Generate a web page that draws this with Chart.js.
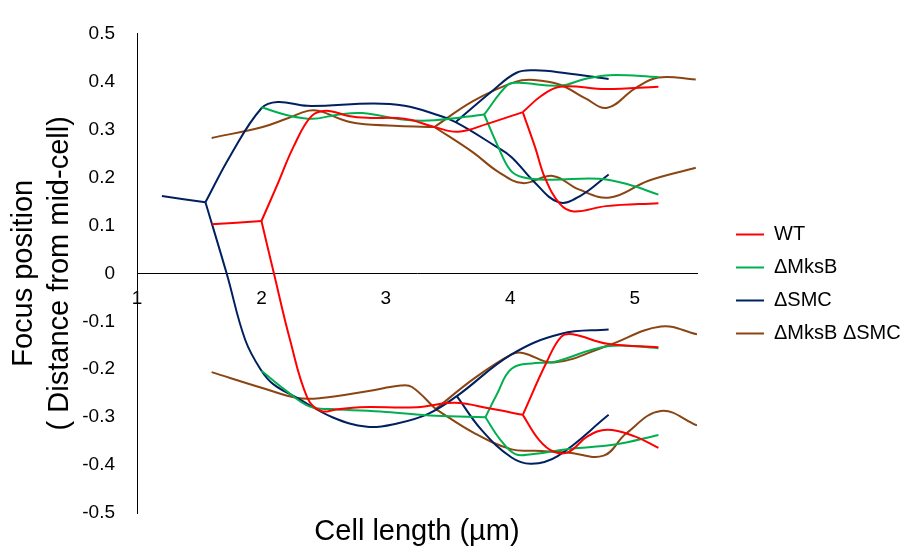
<!DOCTYPE html>
<html>
<head>
<meta charset="utf-8">
<script src="https://cdn.jsdelivr.net/npm/chart.js@4.4.1/dist/chart.umd.min.js"></script>
<style>
html,body{margin:0;padding:0;background:#ffffff;}
#wrap{width:905px;height:552px;}
</style>
</head>
<body>
<div id="wrap"><canvas id="c" width="905" height="552"></canvas></div>
<script>
// ---- data (x = cell length in µm, y = focus position) ----
const seriesNames = ['WT', 'ΔMksB', 'ΔSMC', 'ΔMksB ΔSMC'];
const seriesColors = ['#FF0000', '#00B050', '#002060', '#8B4513'];

const xTickValues = [1, 2, 3, 4, 5];
const xTickLabels = ['1', '2', '3', '4', '5'];
const yTickValues = [-0.5, -0.4, -0.3, -0.2, -0.1, 0, 0.1, 0.2, 0.3, 0.4, 0.5];
const yTickLabels = ['-0.5', '-0.4', '-0.3', '-0.2', '-0.1', '0', '0.1', '0.2', '0.3', '0.4', '0.5'];

// WT
const wtLeadIn = [[1.60,0.102],[2.00,0.109]];
const wtUpper = [[2.00,0.109],[2.12,0.180],[2.26,0.265],[2.40,0.327],[2.52,0.339],[2.70,0.328],[2.85,0.324],[3.15,0.322],[3.39,0.305],[3.58,0.295],[3.82,0.312],[4.10,0.336]];
const wtUpperHigh = [[4.10,0.336],[4.25,0.370],[4.40,0.389],[4.77,0.384],[5.19,0.389]];
const wtUpperLow = [[4.10,0.336],[4.20,0.262],[4.28,0.198],[4.40,0.144],[4.51,0.129],[4.77,0.140],[5.19,0.146]];
const wtLower = [[2.00,0.109],[2.10,0.000],[2.23,-0.139],[2.37,-0.260],[2.48,-0.287],[2.60,-0.284],[2.79,-0.279],[3.25,-0.279],[3.55,-0.270],[3.86,-0.283],[4.10,-0.295]];
const wtLowerHigh = [[4.10,-0.295],[4.29,-0.186],[4.41,-0.132],[4.50,-0.127],[4.78,-0.147],[5.19,-0.154]];
const wtLowerLow = [[4.10,-0.295],[4.23,-0.347],[4.35,-0.372],[4.47,-0.372],[4.62,-0.340],[4.78,-0.326],[5.00,-0.340],[5.19,-0.364]];

// ΔMksB
const mksbUpper = [[2.00,0.346],[2.20,0.330],[2.41,0.322],[2.60,0.330],[2.81,0.334],[3.15,0.320],[3.39,0.319],[3.79,0.331]];
const mksbUpperHigh = [[3.79,0.331],[3.98,0.393],[4.07,0.397],[4.40,0.391],[4.60,0.405],[4.80,0.413],[5.19,0.409]];
const mksbUpperLow = [[3.79,0.331],[3.90,0.265],[4.00,0.215],[4.10,0.200],[4.31,0.195],[4.71,0.197],[4.95,0.185],[5.19,0.164]];
const mksbLower = [[2.00,-0.203],[2.20,-0.245],[2.39,-0.278],[2.57,-0.283],[3.00,-0.289],[3.40,-0.297],[3.80,-0.300]];
const mksbLowerHigh = [[3.80,-0.300],[3.89,-0.253],[4.01,-0.199],[4.20,-0.187],[4.35,-0.185],[4.78,-0.152],[5.19,-0.156]];
const mksbLowerLow = [[3.80,-0.300],[3.92,-0.347],[4.04,-0.377],[4.17,-0.377],[4.47,-0.366],[4.84,-0.357],[5.19,-0.337]];

// ΔSMC
const smcLeadIn = [[1.20,0.161],[1.55,0.148]];
const smcUpper = [[1.55,0.148],[1.75,0.245],[2.00,0.344],[2.13,0.357],[2.37,0.349],[2.90,0.354],[3.15,0.349],[3.39,0.332],[3.56,0.315],[3.88,0.265],[4.01,0.242],[4.19,0.191],[4.39,0.148],[4.56,0.161],[4.79,0.206]];
const smcUpperHigh = [[3.56,0.315],[3.85,0.379],[4.05,0.418],[4.20,0.423],[4.45,0.417],[4.79,0.405]];
const smcLower = [[1.55,0.148],[1.72,0.000],[1.87,-0.139],[2.00,-0.203],[2.10,-0.232],[2.29,-0.260],[2.57,-0.300],[2.85,-0.320],[3.09,-0.313],[3.34,-0.293],[3.57,-0.256],[4.01,-0.169],[4.41,-0.126],[4.79,-0.117]];
const smcLowerLow = [[3.57,-0.256],[3.77,-0.327],[4.01,-0.384],[4.17,-0.397],[4.38,-0.381],[4.79,-0.295]];

// ΔMksB ΔSMC
const dblUpper = [[1.60,0.282],[2.01,0.305],[2.20,0.322],[2.38,0.339],[2.47,0.338],[2.65,0.320],[2.78,0.312],[3.10,0.307],[3.39,0.305]];
const dblUpperHigh = [[3.39,0.305],[3.70,0.359],[4.04,0.399],[4.19,0.403],[4.40,0.393],[4.60,0.365],[4.78,0.345],[5.00,0.385],[5.19,0.408],[5.49,0.404]];
const dblUpperLow = [[3.39,0.305],[3.70,0.252],[3.90,0.212],[4.10,0.188],[4.34,0.203],[4.55,0.175],[4.80,0.158],[5.11,0.193],[5.49,0.220]];
const dblLower = [[1.60,-0.206],[2.02,-0.240],[2.29,-0.260],[2.48,-0.260],[2.85,-0.246],[3.12,-0.234],[3.21,-0.237],[3.40,-0.283]];
const dblLowerHigh = [[3.40,-0.283],[3.71,-0.219],[4.01,-0.169],[4.10,-0.166],[4.35,-0.186],[4.78,-0.151],[5.21,-0.111],[5.50,-0.127]];
const dblLowerLow = [[3.40,-0.283],[3.71,-0.333],[4.01,-0.367],[4.20,-0.370],[4.47,-0.374],[4.75,-0.380],[4.93,-0.334],[5.21,-0.287],[5.50,-0.317]];

const seriesBranches = [
  [wtLeadIn, wtUpper, wtUpperHigh, wtUpperLow, wtLower, wtLowerHigh, wtLowerLow],
  [mksbUpper, mksbUpperHigh, mksbUpperLow, mksbLower, mksbLowerHigh, mksbLowerLow],
  [smcLeadIn, smcUpper, smcUpperHigh, smcLower, smcLowerLow],
  [dblUpper, dblUpperHigh, dblUpperLow, dblLower, dblLowerHigh, dblLowerLow]
];

// ---- build datasets ----
const datasets = [];
seriesBranches.forEach((branches, s) => {
  branches.forEach((branch, b) => {
    datasets.push({
      label: seriesNames[s],
      inLegend: b === 0,
      data: branch.map(p => ({x: p[0], y: p[1]})),
      borderColor: seriesColors[s],
      backgroundColor: seriesColors[s],
      borderWidth: 2,
      pointRadius: 0,
      pointHoverRadius: 0,
      pointStyle: 'line',
      tension: 0.4,
      fill: false
    });
  });
});

Chart.defaults.font.family = "'Liberation Sans', Arial, sans-serif";
Chart.defaults.color = '#000000';

new Chart(document.getElementById('c'), {
  type: 'line',
  data: { datasets },
  options: {
    responsive: false,
    animation: false,
    events: [],
    layout: { padding: { top: 16, right: 0, bottom: 0, left: 0 } },
    scales: {
      x: {
        type: 'linear',
        position: { y: 0 },
        min: 1,
        max: 5.5,
        afterBuildTicks: s => { s.ticks = xTickValues.map(v => ({ value: v })); },
        ticks: {
          padding: 14,
          font: { size: 19 },
          color: '#000000',
          maxRotation: 0,
          autoSkip: false,
          callback: v => xTickLabels[xTickValues.indexOf(v)]
        },
        grid: { display: false, drawTicks: false },
        border: { display: true, color: '#000000', width: 1 },
        title: { display: false }
      },
      y: {
        type: 'linear',
        position: 'left',
        min: -0.5,
        max: 0.5,
        afterBuildTicks: s => { s.ticks = yTickValues.map(v => ({ value: v })); },
        afterFit: s => { s.width = 137; },
        ticks: {
          padding: 22,
          font: { size: 19 },
          color: '#000000',
          autoSkip: false,
          callback: v => yTickLabels[yTickValues.indexOf(v)]
        },
        grid: { display: false, drawTicks: false },
        border: { display: true, color: '#000000', width: 1 },
        title: {
          display: true,
          text: ['Focus position', '( Distance from mid-cell)'],
          font: { size: 29, lineHeight: 1.25 },
          color: '#000000',
          padding: { top: 6, bottom: 0 }
        }
      },
      ySpacer: {
        type: 'linear',
        position: 'right',
        min: -0.5,
        max: 0.5,
        display: true,
        afterFit: s => { s.width = 26; },
        ticks: { display: false },
        grid: { display: false, drawTicks: false },
        border: { display: false }
      }
    },
    plugins: {
      tooltip: { enabled: false },
      title: {
        display: true,
        position: 'bottom',
        fullSize: false,
        text: 'Cell length (µm)',
        color: '#000000',
        font: { size: 29, weight: 'normal', lineHeight: 1.2 },
        padding: { top: 1, bottom: 3 }
      },
      legend: {
        display: true,
        position: 'right',
        align: 'center',
        maxWidth: 182,
        labels: {
          usePointStyle: true,
          pointStyle: 'line',
          pointStyleWidth: 28,
          padding: 13,
          color: '#000000',
          font: { size: 20 },
          filter: (item, data) => data.datasets[item.datasetIndex].inLegend
        }
      }
    }
  }
});
</script>
</body>
</html>
